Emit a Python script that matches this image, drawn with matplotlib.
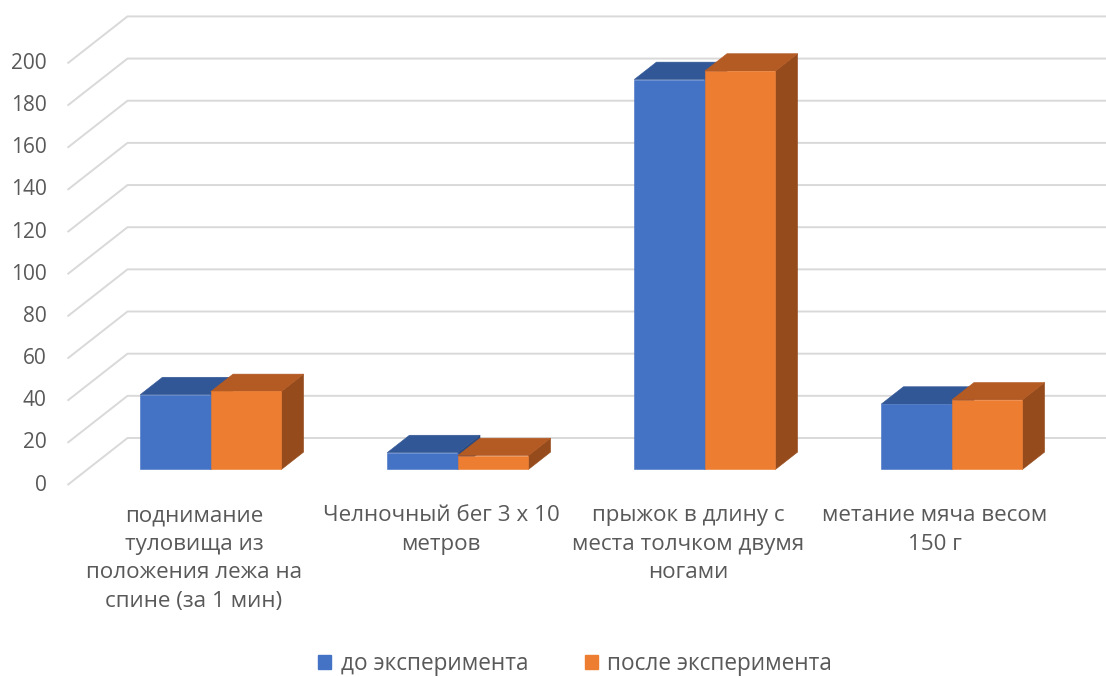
import matplotlib
matplotlib.use("Agg")
import matplotlib.pyplot as plt
from matplotlib.patches import Polygon, Patch

plt.rcParams['font.family'] = ['Open Sans', 'DejaVu Sans']

# ---- data ----
categories = [
    "поднимание\nтуловища из\nположения лежа на\nспине (за 1 мин)",
    "Челночный бег 3 x 10\nметров",
    "прыжок в длину с\nместа толчком двумя\nногами",
    "метание мяча весом\n150 г",
]
series_names = ["до эксперимента", "после эксперимента"]
before = [35.5, 8.0, 185, 31]
after = [37, 6.6, 189, 33]
y_ticks = [0, 20, 40, 60, 80, 100, 120, 140, 160, 180, 200]

# ---- style ----
front_colors = ["#4472C4", "#ED7D31"]
top_colors = ["#325796", "#B45A23"]
side_colors = ["#2A4A80", "#964B1C"]
grid_color = "#D9D9D9"
text_color = "#595959"

# oblique projection: full floor depth expressed in (category, value) units
DX, DY = 0.243, 22.3
F0, F1 = 0.33, 0.70          # front / back depth fractions of the bars
BAR_W = 1 / 3.5              # gap width 150 %
X_LEFT, X_RIGHT = -0.5, 3.5

fig = plt.figure(figsize=(11.06, 6.77), dpi=100)
ax = fig.add_axes([0, 0, 1, 1])
ax.set_xlim(-0.7733, 3.7045)
ax.set_ylim(-91.08, 230.08)
ax.axis("off")

# gridlines on the back wall with the diagonal leading to the front edge
for v in y_ticks:
    ax.plot([X_LEFT, X_LEFT + DX, X_RIGHT + DX + 1],
            [v, v + DY, v + DY], color=grid_color, lw=1.4, zorder=1,
            solid_capstyle="butt")
    ax.text(X_LEFT - 0.085, v, str(v), ha="right", va="center",
            fontsize=15, color=text_color)


def draw_bar(left, h, k):
    x0, y0 = left + F0 * DX, F0 * DY
    x1, y1 = left + F1 * DX, F1 * DY
    w = BAR_W
    front = [(x0, y0), (x0 + w, y0), (x0 + w, y0 + h), (x0, y0 + h)]
    top = [(x0, y0 + h), (x0 + w, y0 + h), (x1 + w, y1 + h), (x1, y1 + h)]
    side = [(x0 + w, y0), (x1 + w, y1), (x1 + w, y1 + h), (x0 + w, y0 + h)]
    for pts, col in ((side, side_colors[k]), (top, top_colors[k]),
                     (front, front_colors[k])):
        ax.add_patch(Polygon(pts, closed=True, facecolor=col,
                             edgecolor=col, lw=0.4, zorder=3))


for i in range(len(categories)):
    draw_bar(i - BAR_W, before[i], 0)
    draw_bar(i, after[i], 1)
    ax.text(i + 0.012, -9.5, categories[i], ha="center", va="top",
            fontsize=16.1, color=text_color, linespacing=1.47)

handles = [Patch(facecolor=c, edgecolor=c) for c in front_colors]
ax.legend(handles, series_names, loc="center", ncol=2, frameon=False,
          bbox_to_anchor=(575 / 1106, 1 - 664 / 677),
          prop={"size": 16.3}, labelcolor=text_color,
          handlelength=0.6, handleheight=0.6, handletextpad=0.4,
          columnspacing=2.5)

fig.savefig("out.png", dpi=100)
